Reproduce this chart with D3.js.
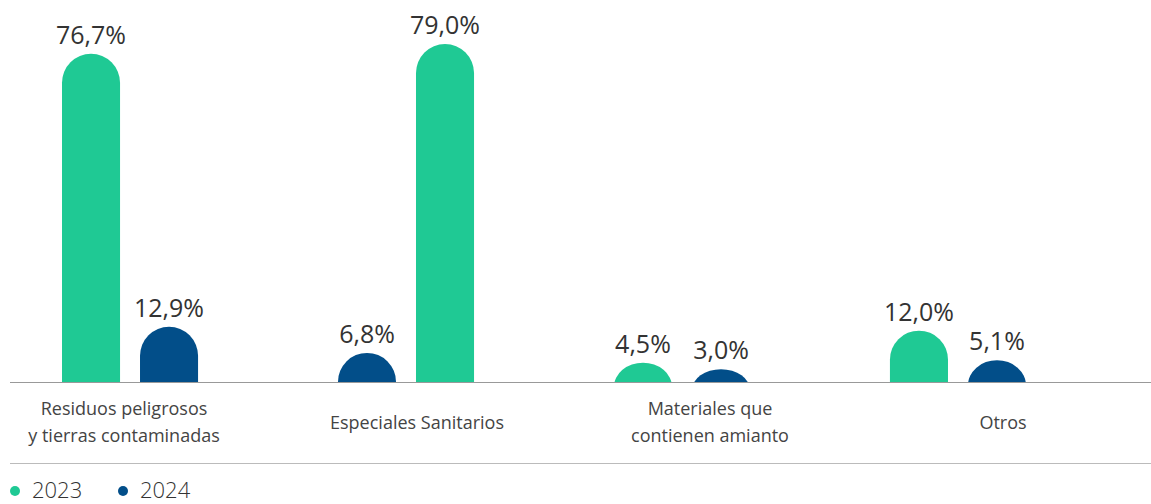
<!DOCTYPE html>
<html>
<head>
<meta charset="utf-8">
<script src="https://cdn.jsdelivr.net/npm/d3@7"></script>
<style>
  body { margin: 0; background: #fff; }
  text { font-family: "Open Sans", sans-serif; }
</style>
</head>
<body>
<script>
// chart data
var categories = ["Residuos peligrosos|y tierras contaminadas", "Especiales Sanitarios", "Materiales que|contienen amianto", "Otros"];
var series = ["2023", "2024"];
var values2023 = [76.7, 79.0, 4.5, 12.0];
var values2024 = [12.9, 6.8, 3.0, 5.1];
// order of the two bars inside each group, as drawn in the original
var barOrder = [["2023", "2024"], ["2024", "2023"], ["2023", "2024"], ["2023", "2024"]];

var colors = { "2023": "#1fc994", "2024": "#024e89" };

var width = 1151, height = 504;
var baseY = 382;

var svg = d3.select('body').append('svg').attr('width', width).attr('height', height);

var x = d3.scaleBand().domain(categories).range([62, 1026]).paddingInner(0.507).paddingOuter(0);
var labelX = d3.scalePoint().domain(categories).range([124, 1003]);
var y = d3.scaleLinear().domain([0, 79]).range([baseY, 44]);

// clip everything below the baseline so the rounded bottoms disappear
svg.append('clipPath').attr('id', 'clip')
  .append('rect').attr('x', 0).attr('y', 0).attr('width', width).attr('height', baseY);

var rows = [];
categories.forEach(function(c, i) {
  var inner = d3.scaleBand().domain(barOrder[i]).range([0, x.bandwidth()]).paddingInner(0.256);
  rows.push({ cat: c, key: "2023", value: values2023[i], x: x(c) + inner("2023"), w: inner.bandwidth() });
  rows.push({ cat: c, key: "2024", value: values2024[i], x: x(c) + inner("2024"), w: inner.bandwidth() });
});

var bars = svg.append('g').attr('clip-path', 'url(#clip)');
bars.selectAll('rect').data(rows).enter().append('rect')
  .attr('x', function(d) { return d.x; })
  .attr('y', function(d) { return y(d.value); })
  .attr('width', function(d) { return d.w; })
  .attr('height', function(d) { return baseY - y(d.value) + d.w / 2; })
  .attr('rx', function(d) { return d.w / 2; })
  .attr('ry', function(d) { return d.w / 2; })
  .attr('fill', function(d) { return colors[d.key]; });

// value labels
svg.selectAll('.val').data(rows).enter().append('text')
  .attr('class', 'val')
  .attr('x', function(d) { return d.x + d.w / 2; })
  .attr('y', function(d) { return y(d.value) - 10; })
  .attr('text-anchor', 'middle')
  .attr('font-size', 25)
  .attr('fill', '#333')
  .text(function(d) { return d.value.toFixed(1).replace('.', ',') + '%'; });

// baseline and bottom rule
svg.append('line').attr('x1', 10).attr('x2', width).attr('y1', baseY + 0.5).attr('y2', baseY + 0.5)
  .attr('stroke', '#999').attr('stroke-width', 1);
svg.append('line').attr('x1', 10).attr('x2', width).attr('y1', 463.5).attr('y2', 463.5)
  .attr('stroke', '#bbb').attr('stroke-width', 1);

// category labels
var cats = svg.selectAll('.cat').data(categories).enter().append('text')
  .attr('class', 'cat')
  .attr('text-anchor', 'middle')
  .attr('font-size', 18)
  .attr('fill', '#444');
cats.each(function(c) {
  var lines = c.split('|');
  var t = d3.select(this);
  var y0 = 428.5 - (lines.length - 1) * 13.5;
  lines.forEach(function(l, j) {
    t.append('tspan').attr('x', labelX(c)).attr('y', y0 + j * 27).text(l);
  });
});

// legend
var legend = svg.selectAll('.leg').data(series).enter().append('g')
  .attr('class', 'leg')
  .attr('transform', function(d, i) { return 'translate(' + (15 + i * 108) + ',491)'; });
legend.append('circle').attr('r', 5).attr('fill', function(d) { return colors[d]; });
legend.append('text').attr('x', 17).attr('y', 6.5)
  .attr('font-size', 22).attr('font-weight', 300).attr('fill', '#333')
  .text(function(d) { return d; });
</script>
</body>
</html>
